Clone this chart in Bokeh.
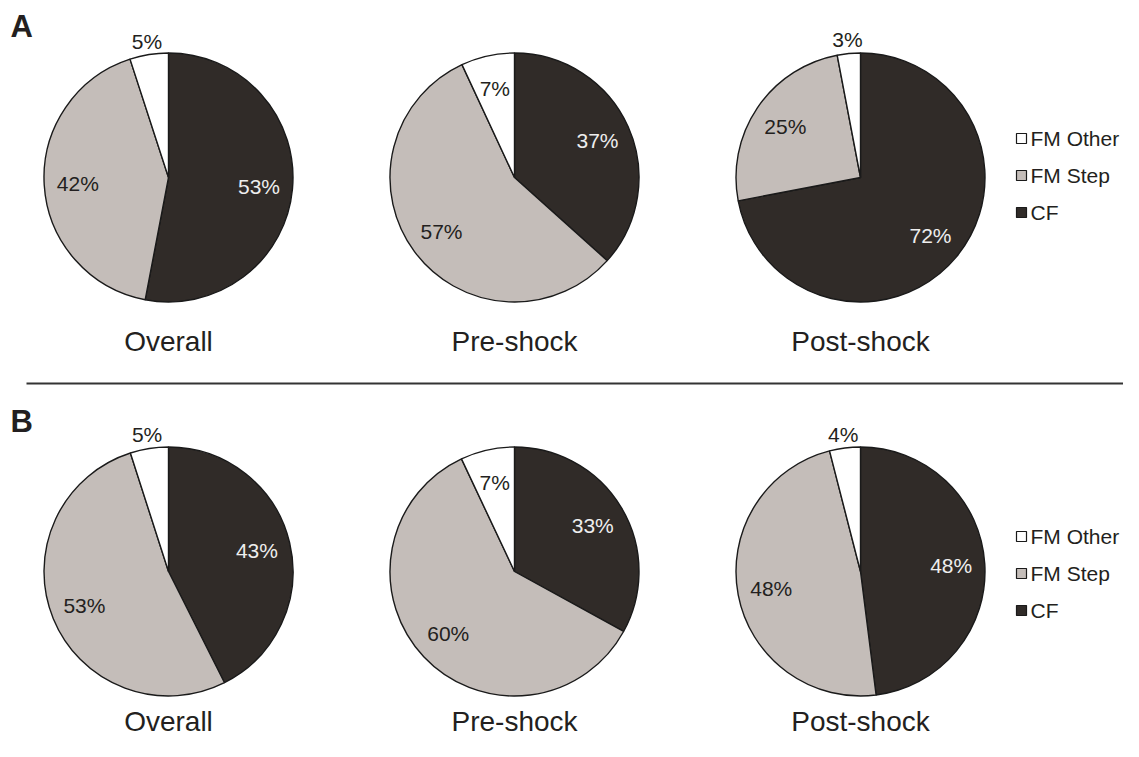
import numpy as np
from bokeh.plotting import figure
from bokeh.models import Range1d, ColumnDataSource
from bokeh.core.properties import value
from bokeh.embed import file_html
from bokeh.resources import INLINE

# ---- data ----
categories = ["CF", "FM Step", "FM Other"]
pie_titles = ["Overall", "Pre-shock", "Post-shock"]
panel_labels = ["A", "B"]
cf_A = [53, 37, 72]
step_A = [42, 57, 25]
other_A = [5, 7, 3]
cf_B = [43, 33, 48]
step_B = [53, 60, 48]
other_B = [5, 7, 4]
legend_order = ["FM Other", "FM Step", "CF"]

# ---- style / layout (reference pixel coordinates, y down) ----
colors = {"CF": "#302b28", "FM Step": "#c4bdb9", "FM Other": "#ffffff"}
label_colors = {"CF": "#eeeeee", "FM Step": "#231f20", "FM Other": "#231f20"}
FONT = "Liberation Sans"
W, H = 1123, 741
col_x = [168, 514, 860]
row_cy = [177, 571]
title_y = [341, 721]
panel_y = [26, 421]
legend_y = [[138, 175, 212], [536, 573, 610]]
R = 124.5
r_in = 0.73 * R
r_out = 1.11 * R


def Y(y_ref):
    return 757 - y_ref


p = figure(width=W, height=H, output_backend="svg", toolbar_location=None,
           x_range=Range1d(0, W), y_range=Range1d(757 - H, 757),
           min_border=0, outline_line_color=None)
p.axis.visible = False
p.grid.visible = False
p.background_fill_color = "white"
p.border_fill_color = "white"

rows = [(cf_A, step_A, other_A), (cf_B, step_B, other_B)]
for ri, (cfs, steps, others) in enumerate(rows):
    cy = Y(row_cy[ri])
    for ci in range(3):
        cx = col_x[ci]
        vals = [cfs[ci], steps[ci], others[ci]]
        tot = float(sum(vals))
        cum = np.cumsum([0] + vals) / tot * 360.0  # clockwise from top, degrees
        starts, ends, fills, lx, ly, ltxt, lcol = [], [], [], [], [], [], []
        for k, cat in enumerate(categories):
            t0, t1 = cum[k], cum[k + 1]
            starts.append(np.radians(90 - t1))
            ends.append(np.radians(90 - t0))
            fills.append(colors[cat])
            mid = np.radians((t0 + t1) / 2)
            rr = r_out if vals[k] < 6 else r_in
            lx.append(cx + rr * np.sin(mid))
            ly.append(cy + rr * np.cos(mid))
            ltxt.append(f"{vals[k]}%")
            lcol.append(label_colors[cat] if vals[k] >= 6 else "#231f20")
        src = ColumnDataSource(dict(x=[cx] * 3, y=[cy] * 3, s=starts, e=ends, c=fills))
        p.wedge(x="x", y="y", radius=R, start_angle="s", end_angle="e", source=src,
                fill_color="c", line_color="#1a1a1a", line_width=1.4)
        p.text(x=lx, y=ly, text=ltxt, text_color=lcol, text_font=value(FONT),
               text_font_size="21px", text_align="center", text_baseline="middle")
        p.text(x=[cx], y=[Y(title_y[ri])], text=[pie_titles[ci]], text_color="#231f20",
               text_font=value(FONT), text_font_size="28px", text_align="center",
               text_baseline="middle")
    # legend
    ly_leg = [Y(v) for v in legend_y[ri]]
    p.rect(x=[1021] * 3, y=ly_leg, width=10, height=10,
           fill_color=[colors[c] for c in legend_order], line_color="#1a1a1a", line_width=1.2)
    p.text(x=[1030] * 3, y=ly_leg, text=legend_order, text_color="#231f20",
           text_font=value(FONT), text_font_size="21px", text_align="left",
           text_baseline="middle")
    # panel label
    p.text(x=[10], y=[Y(panel_y[ri])], text=[panel_labels[ri]], text_color="#231f20",
           text_font=value(FONT), text_font_size="31px", text_font_style="bold",
           text_align="left", text_baseline="middle")

# divider line
p.segment(x0=[26], y0=[Y(383)], x1=[W], y1=[Y(383)], line_color="#333333", line_width=2)

open("out.html", "w").write(file_html(p, INLINE))
